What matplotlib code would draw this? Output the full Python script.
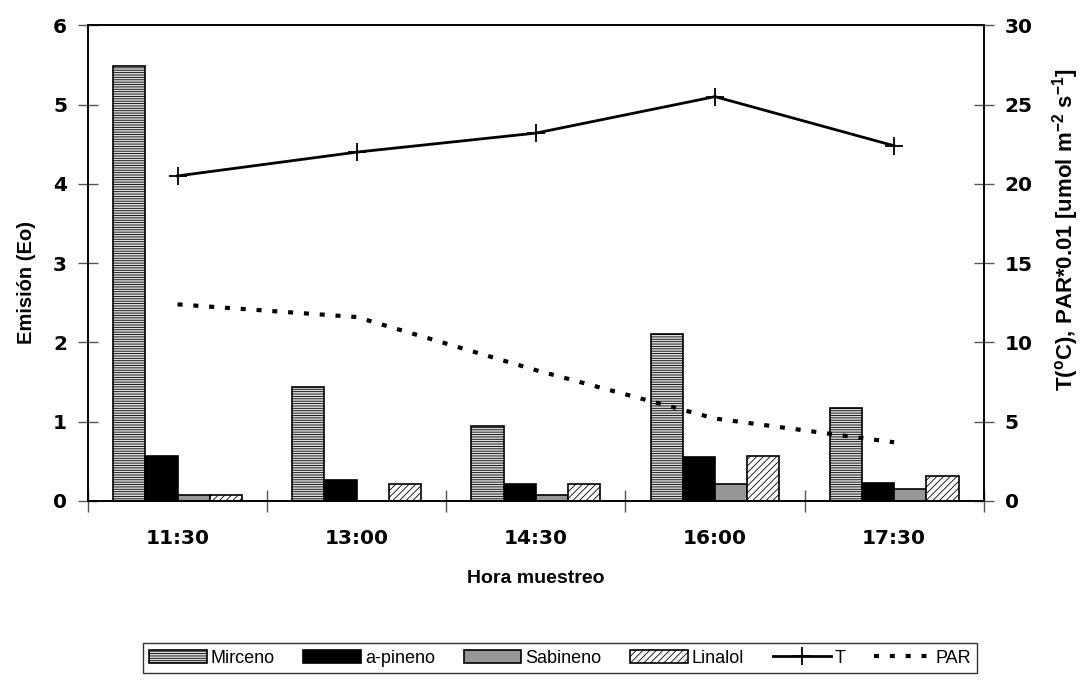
import matplotlib
matplotlib.use("Agg")
import matplotlib.pyplot as plt
import numpy as np
from matplotlib import font_manager

# data
horas = ["11:30", "13:00", "14:30", "16:00", "17:30"]
mirceno = [5.48, 1.44, 0.95, 2.10, 1.17]
a_pineno = [0.57, 0.27, 0.21, 0.55, 0.23]
sabineno = [0.08, 0.0, 0.08, 0.22, 0.15]
linalol = [0.07, 0.21, 0.21, 0.57, 0.31]
temp = [20.5, 22.0, 23.2, 25.5, 22.4]
par = [12.4, 11.6, 8.25, 5.2, 3.7]

names = [f.name for f in font_manager.fontManager.ttflist]
narrow = "Liberation Sans Narrow" if "Liberation Sans Narrow" in names else "Liberation Sans"

plt.rcParams['hatch.linewidth'] = 0.6
plt.rcParams['mathtext.fontset'] = 'custom'
plt.rcParams['mathtext.rm'] = 'Liberation Sans:bold'
plt.rcParams['mathtext.default'] = 'rm'

fig = plt.figure(figsize=(10.81, 6.83), dpi=100)
ax = fig.add_axes([0.0814, 0.2665, 0.8286, 0.6965])
ax2 = ax.twinx()

x = np.arange(len(horas))
w = 0.18
b1 = ax.bar(x - 1.5 * w, mirceno, w, facecolor='#dcdcdc', edgecolor='black', hatch='-------', linewidth=1.2, label='Mirceno')
b2 = ax.bar(x - 0.5 * w, a_pineno, w, facecolor='black', edgecolor='black', linewidth=1.2, label='a-pineno')
b3 = ax.bar(x + 0.5 * w, sabineno, w, facecolor='#969696', edgecolor='black', linewidth=1.2, label='Sabineno')
b4 = ax.bar(x + 1.5 * w, linalol, w, facecolor='white', edgecolor='black', hatch='/////', linewidth=1.2, label='Linalol')

l1, = ax2.plot(x, temp, color='black', lw=2, marker='+', markersize=13, markeredgewidth=1.3, label='T')
l2, = ax2.plot(x, par, color='black', lw=3, linestyle=(0, (1.2, 2.6)), label='PAR')

ax.set_xlim(-0.5, 4.5)
ax.set_ylim(0, 6)
ax2.set_ylim(0, 30)
ax.set_xticks(x)
ax.set_xticklabels(horas)
ax.set_xticks(np.arange(-0.5, 5.0, 1.0), minor=True)
ax.tick_params(axis='x', which='major', length=0, pad=20)
ax.tick_params(axis='x', which='minor', direction='inout', length=16, width=1, color='#555555')
ax.tick_params(axis='y', direction='inout', length=14, width=1, color='#555555', pad=8)
ax2.tick_params(axis='y', direction='inout', length=14, width=1, color='#555555', pad=8)
ax.set_yticks(range(0, 7))
ax2.set_yticks(range(0, 31, 5))

for lab in ax.get_xticklabels() + ax.get_yticklabels() + ax2.get_yticklabels():
    lab.set_fontfamily('DejaVu Sans')
    lab.set_fontweight('bold')
    lab.set_fontsize(14.5)

for a in (ax, ax2):
    for s in a.spines.values():
        s.set_linewidth(1.2)

ax.set_xlabel('Hora muestreo', fontsize=14, fontweight='bold', family='Liberation Sans', labelpad=16)
ax.set_ylabel('Emisión (Eo)', fontsize=14.5, fontweight='bold', family='Liberation Sans')
ax.yaxis.set_label_coords(-0.058, 0.46)
ax2.set_ylabel(r'T($^{o}$C), PAR*0.01 [umol m$^{-2}$ s$^{-1}$]', fontsize=16, fontweight='bold',
               family='Liberation Sans', rotation=90)
ax2.yaxis.set_label_coords(1.074, 0.57)

leg = fig.legend([b1, b2, b3, b4, l1, l2], ['Mirceno', 'a-pineno', 'Sabineno', 'Linalol', 'T', 'PAR'],
                 loc='center', bbox_to_anchor=(0.518, 0.0366), ncol=6, frameon=True, fancybox=False,
                 edgecolor='black', prop={'family': narrow, 'size': 13}, handlelength=3.2,
                 handletextpad=0.2, columnspacing=1.6, borderpad=0.35)
leg.get_frame().set_linewidth(1.0)

fig.savefig('out.png', dpi=100)
